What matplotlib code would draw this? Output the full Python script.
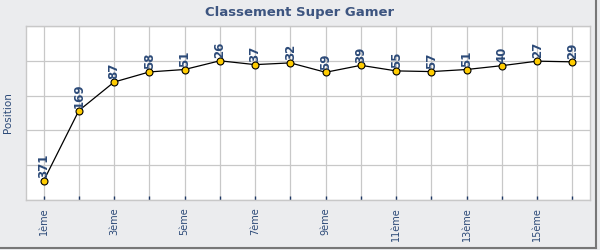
import matplotlib
matplotlib.use("Agg")
import matplotlib.pyplot as plt
from matplotlib.lines import Line2D

rounds = list(range(1, 17))
positions = [371, 169, 87, 58, 51, 26, 37, 32, 59, 39, 55, 57, 51, 40, 27, 29]
tick_labels = ["%dème" % r for r in rounds]

navy = "#2c4a78"
grid_col = "#c8c8c8"

fig = plt.figure(figsize=(6, 2.5), dpi=100, facecolor="#ebecee")
ax = fig.add_axes([26 / 600, 50 / 250, 564 / 600, 174 / 250])
ax.set_facecolor("white")

ax.plot(rounds, positions, color="black", lw=0.9, zorder=3)
ax.plot(rounds, positions, "o", ms=5, mfc="#ffcc00", mec="black", mew=0.8, zorder=4)

for x, v in zip(rounds, positions):
    ax.annotate(str(v), (x, v), xytext=(0, 2), textcoords="offset points",
                rotation=90, ha="center", va="bottom", fontsize=8.5,
                fontweight="bold", color=navy, zorder=5)

# y scale: linear, inverted, gridlines every 100 starting from the best position
ax.set_ylim(426, -74)
ax.set_yticks([-74, 26, 126, 226, 326, 426])
ax.set_yticklabels([])
ax.tick_params(axis="y", length=0)
ax.set_xlim(0.5, 16.5)
ax.set_xticks(rounds)
ax.set_xticklabels([t if i % 2 == 0 else "" for i, t in enumerate(tick_labels)],
                   rotation=90, fontsize=7, color=navy)
ax.tick_params(axis="x", direction="in", length=3, width=1, color="#1f3864", pad=5)

ax.grid(True, color=grid_col, lw=0.9)
ax.set_axisbelow(True)
for s in ax.spines.values():
    s.set_color(grid_col)
    s.set_linewidth(1)

ax.set_ylabel("Position", fontsize=7.5, color=navy, labelpad=6)
fig.text(0.5, 0.95, "Classement Super Gamer", ha="center", va="center",
         fontsize=9.5, fontweight="bold", color="#3d5580")

# shadow border right/bottom
fig.add_artist(Line2D([596 / 600, 596 / 600], [2 / 250, 1], color="#777777", lw=1.5))
fig.add_artist(Line2D([0, 596 / 600], [2 / 250, 2 / 250], color="#777777", lw=1.5))

fig.savefig("out.png", dpi=100, facecolor=fig.get_facecolor())
